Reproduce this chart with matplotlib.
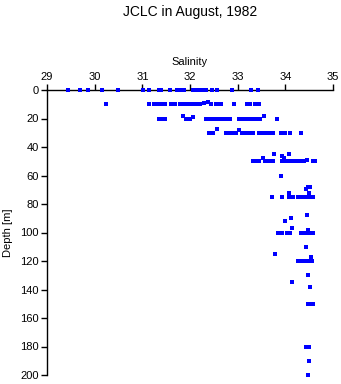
import numpy as np
import matplotlib
matplotlib.use("Agg")
import matplotlib.pyplot as plt

plt.rcParams['font.family'] = ['Liberation Sans', 'DejaVu Sans']

# salinity / depth pairs, grouped by sample depth
sal_0 = [29.45, 29.69, 29.86, 30.16, 30.48, 31.01, 31.15, 31.34, 31.37, 31.40,
         31.57, 31.72, 31.76, 31.80, 31.84, 31.88, 32.06, 32.10, 32.14, 32.18,
         32.22, 32.25, 32.34, 32.46, 32.57, 32.89, 33.27, 33.42]
dep_0 = [0] * len(sal_0)

sal_10 = [30.23, 31.14, 31.25, 31.29, 31.33, 31.38, 31.42, 31.48, 31.60, 31.64,
          31.68, 31.80, 31.84, 31.88, 31.95, 32.05, 32.12, 32.20, 32.30, 32.37,
          32.45, 32.55, 32.60, 32.65, 32.93, 33.20, 33.25, 33.37, 33.45]
dep_10 = [10, 10, 10, 10, 10, 10, 10, 10, 10, 10,
          10, 10, 10, 10, 10, 10, 10, 10, 9, 8.5,
          10, 10, 10, 10, 10, 10, 10, 10, 10]

sal_20 = [31.35, 31.42, 31.47, 31.86, 31.92, 32.00, 32.06, 32.33, 32.40, 32.47,
          32.54, 32.60, 32.66, 32.72, 32.78, 32.84, 33.02, 33.10, 33.16, 33.20,
          33.27, 33.34, 33.40, 33.44, 33.47, 33.56, 33.83]
dep_20 = [20, 20, 20, 18.5, 20, 20, 19, 20, 20, 20,
          20, 20, 20, 20, 20, 20, 20, 20, 20, 20,
          20, 20, 20, 20, 20, 18.5, 20]

sal_30 = [32.39, 32.44, 32.49, 32.56, 32.75, 32.78, 32.86, 32.91, 32.97, 33.03,
          33.09, 33.16, 33.24, 33.33, 33.44, 33.52, 33.60, 33.68, 33.75, 33.91,
          34.00, 34.10, 34.33]
dep_30 = [30, 30, 30, 27.5, 30, 30, 30, 30, 30, 28,
          30, 30, 30, 30, 30, 30, 30, 30, 30, 30,
          30, 30, 30]

sal_50 = [33.76, 34.08, 33.92, 33.54, 33.98, 33.33, 33.38, 33.44, 33.58, 33.63,
          33.68, 33.75, 33.93, 33.98, 34.03, 34.08, 34.13, 34.18, 34.22, 34.26,
          34.36, 34.40, 34.45, 34.58, 34.62]
dep_50 = [45, 45, 46.5, 48, 48, 50, 50, 50, 50, 50,
          50, 50, 50, 50, 50, 50, 50, 50, 50, 50,
          50, 50, 49, 50, 50]

sal_75 = [33.90, 34.51, 34.43, 34.47, 34.07, 34.49, 33.73, 33.94, 34.07, 34.12,
          34.17, 34.26, 34.30, 34.35, 34.38, 34.42, 34.46, 34.50, 34.54, 34.58]
dep_75 = [60, 68, 69.5, 68, 72.5, 72.5, 75, 75, 75, 75,
          75, 75, 75, 75, 75, 75, 75, 75, 75, 75]

sal_100 = [34.46, 34.12, 34.00, 34.15, 34.48, 33.84, 33.94, 34.04, 34.10, 34.32,
           34.36, 34.40, 34.45, 34.50, 34.55, 34.59]
dep_100 = [87.5, 90, 92, 97, 98, 100, 100, 100, 100, 100,
           100, 100, 100, 100, 100, 100]

sal_deep = [34.43, 33.78, 34.53, 34.27, 34.32, 34.37, 34.44, 34.48, 34.52, 34.56,
            34.47, 34.13, 34.51, 34.47, 34.52, 34.58, 34.44, 34.50, 34.50, 34.47]
dep_deep = [110, 115, 117.5, 120, 120, 120, 120, 120, 120, 120,
            130, 135, 138, 150, 150, 150, 180, 180, 190, 200]

salinity = sal_0 + sal_10 + sal_20 + sal_30 + sal_50 + sal_75 + sal_100 + sal_deep
depth = dep_0 + dep_10 + dep_20 + dep_30 + dep_50 + dep_75 + dep_100 + dep_deep

sal_ticks = [29, 30, 31, 32, 33, 34, 35]
depth_ticks = [0, 20, 40, 60, 80, 100, 120, 140, 160, 180, 200]

fig = plt.figure(figsize=(3.41, 3.84), dpi=100)
ax = fig.add_axes([47/341, 1 - 375/384, 286/341, 285/384])

ax.plot(salinity, depth, 's', color='#0000ff', markersize=2.2, markeredgewidth=0,
        clip_on=False, zorder=5)

ax.set_xlim(29, 35)
ax.set_ylim(200, 0)
ax.set_xticks(sal_ticks)
ax.set_yticks(depth_ticks)
ax.xaxis.tick_top()
ax.xaxis.set_label_position('top')
ax.spines['right'].set_visible(False)
ax.spines['bottom'].set_visible(False)
for s in ('top', 'left'):
    ax.spines[s].set_linewidth(1.0)
ax.tick_params(axis='both', direction='out', length=4, width=1.0, labelsize=8, pad=2)
ax.set_xlabel('Salinity', fontsize=8, labelpad=5)
ax.set_ylabel('Depth [m]', fontsize=8, labelpad=5)

fig.suptitle('JCLC in August, 1982', x=190/341, y=1 - 5/384, fontsize=10, va='top')

fig.savefig('out.png', dpi=100)
